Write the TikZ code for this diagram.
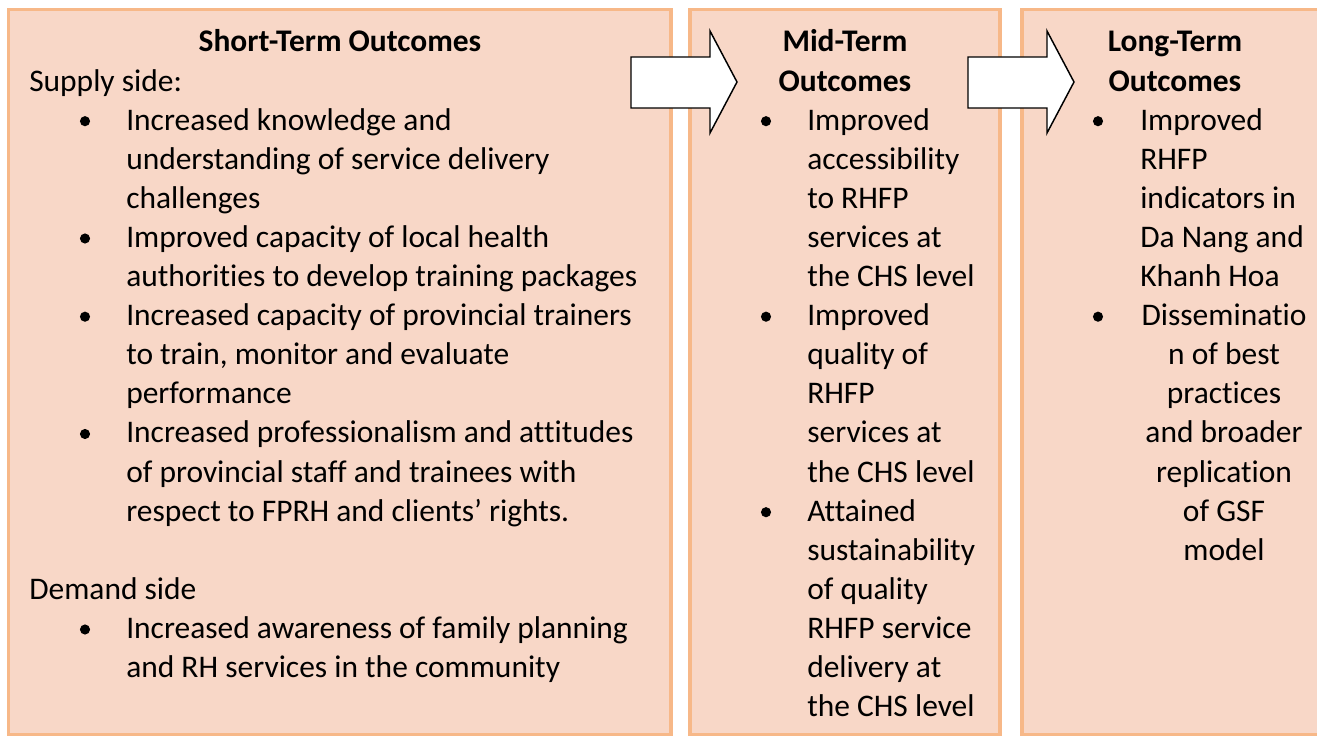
\documentclass[tikz,border=0pt]{standalone}
\usepackage{fontspec}
\setmainfont{Carlito}[Ligatures=NoCommon]
\definecolor{peach}{RGB}{248,215,199}
\definecolor{peachline}{RGB}{247,184,136}
\tikzset{
    outbox/.style={fill=peach,draw=peachline,line width=2.3pt},
    blockarrow/.style={fill=white,draw=black,line width=1.1pt,line join=miter},
    txt/.style={anchor=base west,inner sep=0pt,font=\fontsize{23.6}{29}\selectfont},
    ctxt/.style={txt,anchor=base},
    head/.style={ctxt,font=\fontsize{23.6}{29}\selectfont\bfseries}
}
\begin{document}
\begin{tikzpicture}[x=0.75pt,y=-0.75pt]
        \useasboundingbox (0,0) rectangle (1317,737);
        \clip (0,0) rectangle (1317,737);
        % the three columns
        \draw [outbox] (8.5,9.5) rectangle (671,734.5);
        \draw [outbox] (690,9.5) rectangle (1000,734.5);
        \draw [outbox] (1022,9.5) rectangle (1345,734.5);

        % short term column
        \node [head] (st) at (340,52) {Short-Term Outcomes};
        \node [txt] (sup) at (29,{52+39.1}) {Supply side:};
        \foreach[count=\i from 2] \t in {Increased knowledge and,
            understanding of service delivery,
            challenges,
            Improved capacity of local health,
            authorities to develop training packages,
            Increased capacity of provincial trainers,
            {to train, monitor and evaluate},
            performance,
            Increased professionalism and attitudes,
            of provincial staff and trainees with,
            respect to FPRH and clients’ rights.}{
            \node [txt] (s\i) at (126,{52+39.1*\i}) {\t};
        }
        \node [txt] (dem) at (29,{52+39.1*14}) {Demand side};
        \node [txt] (d1) at (126,{52+39.1*15}) {Increased awareness of family planning};
        \node [txt] (d2) at (126,{52+39.1*16}) {and RH services in the community};

        % mid term column
        \node [head] (mt) at (845,52) {Mid-Term};
        \node [head] (mt2) at (845,{52+39.1}) {Outcomes};
        \foreach[count=\i from 2] \t in {Improved,accessibility,to RHFP,
            services at,the CHS level,Improved,quality of,RHFP,services at,
            the CHS level,Attained,sustainability,of quality,RHFP service,
            delivery at,the CHS level}{
            \node [txt] (m\i) at (807,{52+39.1*\i}) {\t};
        }

        % long term column
        \node [head] (lt) at (1175,52) {Long-Term};
        \node [head] (lt2) at (1175,{52+39.1}) {Outcomes};
        \foreach[count=\i from 2] \t in {Improved,RHFP,indicators in,
            Da Nang and,Khanh Hoa}{
            \node [txt] (l\i) at (1140,{52+39.1*\i}) {\t};
        }
        \foreach[count=\i from 7] \t in {Disseminatio,n of best,practices,
            and broader,replication,of GSF,model}{
            \node [ctxt] (r\i) at (1224,{52+39.1*\i}) {\t};
        }

        % bullets
        \foreach \x/\i in {85/2,85/5,85/7,85/10,85/15,
            766/2,766/7,766/12,1098/2,1098/7}{
            \fill ({\x},{52+39.1*\i-9}) circle (3.8pt);
        }

        % arrows between the columns
        \foreach \x in {631,968}{
            \draw [blockarrow] (\x,57) -- (\x+79,57) -- (\x+79,31) -- (\x+106,82)
                -- (\x+79,133) -- (\x+79,108) -- (\x,108) -- cycle;
        }
\end{tikzpicture}
\end{document}
